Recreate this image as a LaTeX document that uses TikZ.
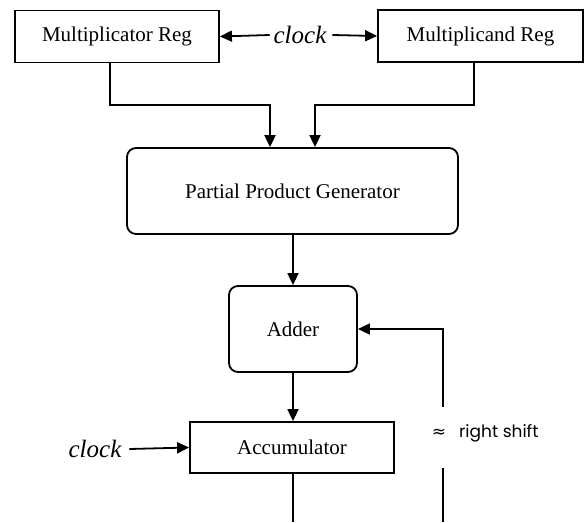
\documentclass[tikz,border=0pt]{standalone}
\usepackage{fontspec}
\setmainfont{Liberation Serif}
\newfontfamily\rsfont{Poppins}
\newfontfamily\symfont{DejaVu Sans}
\usetikzlibrary{arrows.meta}
\begin{document}
\begin{tikzpicture}[x=1pt,y=-1pt,
  line width=1.8pt,
  box/.style={draw, minimum width=#1, inner sep=0pt, font=\fontsize{21}{24}\selectfont},
  rbox/.style={box=#1, rounded corners=9pt},
  arr/.style={-{Triangle[length=12pt,width=11pt]}},
  clk/.style={font=\itshape\fontsize{25}{28}\selectfont, inner sep=0pt}]
\useasboundingbox (0,0) rectangle (586,522);
\node[box=204pt, minimum height=52pt] (mr) at (117,36.5) {Multiplicator Reg};
\node[box=205pt, minimum height=52pt] (md) at (480.5,36) {Multiplicand Reg};
\node[clk] (c1) at (300,35) {clock};
\node[rbox=331pt, minimum height=86pt] (ppg) at (292.5,191) {Partial Product Generator};
\node[rbox=128pt, minimum height=86pt] (ad) at (293,329) {Adder};
\node[box=204pt, minimum height=51pt] (acc) at (292,447.5) {Accumulator};
\node[clk] (c2) at (95,449) {clock};
\node[anchor=west, inner sep=0pt] (rs) at (431,433) {{\symfont\fontsize{17}{19}\selectfont ≈}\hspace{13pt}{\rsfont\fontsize{17}{19}\selectfont right shift}};
\coordinate (k1) at (110,105);
\coordinate (k2) at (270,105);
\coordinate (k3) at (474,105);
\coordinate (k4) at (315,105);
\coordinate (g1) at (443,468);
\coordinate (g2) at (443,407);
\coordinate (b1) at (293,522);
\coordinate (b2) at (443,522);
\draw[arr] ([xshift=-3pt]c1.west) -- (mr.east);
\draw[arr] ([xshift=5pt]c1.east) -- (md.west);
\draw[arr] (mr.south -| k1) -- (k1) -- (k2) -- (k2 |- ppg.north);
\draw[arr] (md.south -| k3) -- (k3) -- (k4) -- (k4 |- ppg.north);
\draw[arr] (ppg.south -| ad.north) -- (ad.north);
\draw[arr] (ad.south) -- (ad.south |- acc.north);
\draw[arr] ([xshift=7pt]c2.east) -- (acc.west);
\draw[arr] (g2) |- (ad.east);
\draw (b2) -- (g1);
\draw (acc.south -| b1) -- (b1);
\end{tikzpicture}
\end{document}
